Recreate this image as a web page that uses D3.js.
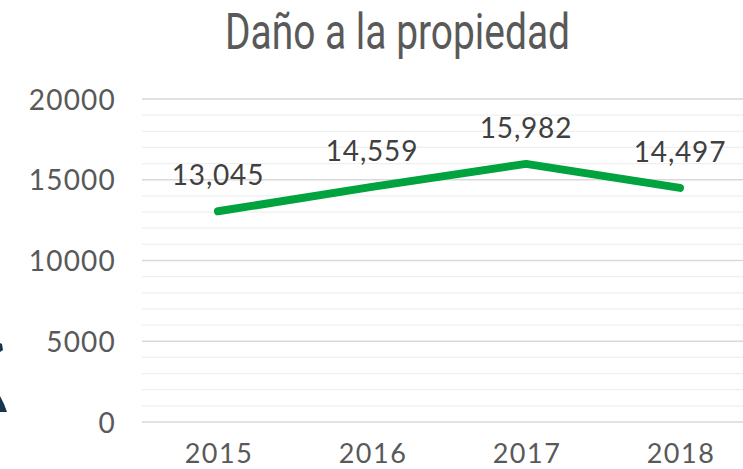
<!DOCTYPE html>
<html>
<head>
<meta charset="utf-8">
<script src="https://cdn.jsdelivr.net/npm/d3@7"></script>
<style>
  html, body { margin: 0; padding: 0; background: #ffffff; }
  svg { display: block; }
</style>
</head>
<body>
<svg id="chart" width="743" height="469"></svg>
<script>
// Data: property damage reports per year
const years = ["2015", "2016", "2017", "2018"];
const values = [13045, 14559, 15982, 14497];
const yTicks = [0, 5000, 10000, 15000, 20000];
const minorStep = 1000;
const title = "Daño a la propiedad";

const W = 743, H = 469;
const svg = d3.select("#chart");

const plot = { left: 141, right: 757, top: 99, bottom: 422 };

const x = d3.scaleBand().domain(years).range([plot.left, plot.right]);
const y = d3.scaleLinear().domain([0, 20000]).range([plot.bottom, plot.top]);

const font = "'Lato', 'Noto Sans', sans-serif";

// Minor gridlines
const minor = d3.range(0, 20001, minorStep).filter(v => v % 5000 !== 0);
svg.append("g").selectAll("line").data(minor).join("line")
  .attr("x1", plot.left + 1).attr("x2", W)
  .attr("y1", d => y(d)).attr("y2", d => y(d))
  .attr("stroke", "#efefef").attr("stroke-width", 1.3);

// Major gridlines
svg.append("g").selectAll("line").data(yTicks).join("line")
  .attr("x1", plot.left + 1).attr("x2", W)
  .attr("y1", d => y(d)).attr("y2", d => y(d))
  .attr("stroke", "#d9d9d9").attr("stroke-width", 1.3);

// Y axis labels
const yAxis = d3.axisLeft(y).tickValues(yTicks).tickSize(0).tickPadding(0).tickFormat(d3.format("d"));
svg.append("g")
  .attr("transform", `translate(116,0)`)
  .call(yAxis)
  .call(g => g.select(".domain").remove())
  .call(g => g.selectAll("text")
    .attr("fill", "#595959")
    .attr("font-family", font)
    .attr("font-size", 28)
    .attr("letter-spacing", 1.2)
    .attr("dy", "0.36em"));

// X axis labels
const xAxis = d3.axisBottom(x).tickSize(0).tickPadding(0);
svg.append("g")
  .call(xAxis)
  .call(g => g.select(".domain").remove())
  .call(g => g.selectAll("text")
    .attr("fill", "#595959")
    .attr("font-family", font)
    .attr("font-size", 27)
    .attr("letter-spacing", 1.5)
    .attr("x", 1)
    .attr("y", 463)
    .attr("dy", 0));

// Series line
const pts = years.map((yr, i) => ({ yr, v: values[i] }));
const line = d3.line()
  .x(d => x(d.yr) + x.bandwidth() / 2)
  .y(d => y(d.v));
svg.append("path")
  .datum(pts)
  .attr("d", line)
  .attr("fill", "none")
  .attr("stroke", "#00A33E")
  .attr("stroke-width", 8)
  .attr("stroke-linecap", "round")
  .attr("stroke-linejoin", "round");

// Data labels
const fmt = d3.format(",");
svg.append("g").selectAll("text").data(pts).join("text")
  .attr("x", d => x(d.yr) + x.bandwidth() / 2)
  .attr("y", d => y(d.v) - 26)
  .attr("text-anchor", "middle")
  .attr("fill", "#404040")
  .attr("font-family", font)
  .attr("font-size", 28)
  .attr("letter-spacing", 0.8)
  .text(d => fmt(d.v));

// Title
svg.append("text")
  .attr("x", 225)
  .attr("y", 49)
  .attr("fill", "#595959")
  .attr("font-family", "'Roboto', 'DejaVu Sans Condensed', sans-serif")
  .attr("font-size", 50)
  .attr("textLength", 345)
  .attr("lengthAdjust", "spacingAndGlyphs")
  .text(title);

// Edge of neighbouring graphic on the left
svg.append("path")
  .attr("d", "M0,343 L2,344 L3,350 L0,352 Z M0,396 L4,404 L7,412 L0,412 Z")
  .attr("fill", "#17364d");
</script>
</body>
</html>
